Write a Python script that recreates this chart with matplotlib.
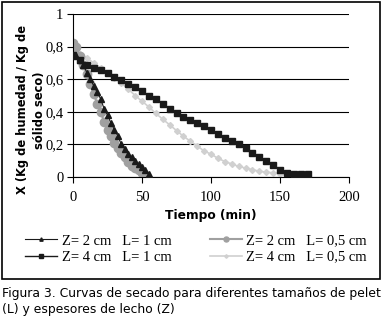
import matplotlib
matplotlib.use("Agg")
import matplotlib.pyplot as plt
from matplotlib.patches import Rectangle
from matplotlib.ticker import FuncFormatter

# Z=2 cm, L=1 cm (triangles)
t_z2_l1 = [0, 2.5, 5, 7.5, 10, 12.5, 15, 17.5, 20, 22.5, 25, 27.5, 30, 32.5,
           35, 37.5, 40, 42.5, 45, 47.5, 50, 52.5, 55]
x_z2_l1 = [0.75, 0.74, 0.72, 0.69, 0.64, 0.60, 0.56, 0.52, 0.48, 0.42, 0.38, 0.33,
           0.29, 0.25, 0.20, 0.17, 0.14, 0.12, 0.10, 0.08, 0.06, 0.04, 0.02]

# Z=2 cm, L=0,5 cm (circles)
t_z2_l05 = [0, 2.5, 5, 7.5, 10, 12.5, 15, 17.5, 20, 22.5, 25, 27.5, 30, 32.5,
            35, 37.5, 40, 42.5, 45, 47.5, 50, 52.5]
x_z2_l05 = [0.82, 0.80, 0.74, 0.69, 0.63, 0.57, 0.51, 0.45, 0.40, 0.34, 0.29, 0.25,
            0.21, 0.18, 0.15, 0.12, 0.09, 0.07, 0.055, 0.04, 0.025, 0.01]

# Z=4 cm, L=1 cm (squares)
t_z4_l1 = [0, 5, 10, 15, 20, 25, 30, 35, 40, 45, 50, 55, 60, 65, 70, 75, 80, 85,
           90, 95, 100, 105, 110, 115, 120, 125, 130, 135, 140, 145, 150, 155,
           160, 165, 170]
x_z4_l1 = [0.75, 0.72, 0.69, 0.67, 0.655, 0.64, 0.615, 0.595, 0.57, 0.55, 0.525,
           0.50, 0.48, 0.45, 0.42, 0.39, 0.37, 0.35, 0.33, 0.31, 0.29, 0.265,
           0.24, 0.22, 0.20, 0.175, 0.15, 0.125, 0.10, 0.075, 0.045, 0.025,
           0.02, 0.02, 0.02]

# Z=4 cm, L=0,5 cm (diamonds)
t_z4_l05 = [0, 5, 10, 15, 20, 25, 30, 35, 40, 45, 50, 55, 60, 65, 70, 75, 80, 85,
            90, 95, 100, 105, 110, 115, 120, 125, 130, 135, 140, 145, 150, 155,
            160, 165]
x_z4_l05 = [0.78, 0.755, 0.73, 0.70, 0.67, 0.64, 0.61, 0.575, 0.54, 0.50, 0.465,
            0.43, 0.39, 0.355, 0.32, 0.285, 0.25, 0.22, 0.19, 0.16, 0.14, 0.115,
            0.095, 0.08, 0.065, 0.055, 0.045, 0.035, 0.03, 0.025, 0.02, 0.018,
            0.015, 0.015]

serif = "Liberation Serif"
sans = "DejaVu Sans"

fig = plt.figure(figsize=(3.82, 3.22), dpi=100)
ax = fig.add_axes([73 / 382, 1 - 177 / 322, 276 / 382, 163 / 322])

ax.plot(t_z4_l05, x_z4_l05, color="#d0d0d0", lw=1.2, marker="D", ms=3,
        label="Z= 4 cm   L= 0,5 cm", zorder=2)
ax.plot(t_z4_l1, x_z4_l1, color="#1a1a1a", lw=1.0, marker="s", ms=5,
        label="Z= 4 cm   L= 1 cm", zorder=3)
ax.plot(t_z2_l05, x_z2_l05, color="#a0a0a0", lw=1.5, marker="o", ms=6,
        label="Z= 2 cm   L= 0,5 cm", zorder=2)
ax.plot(t_z2_l1, x_z2_l1, color="#1a1a1a", lw=0.8, marker="^", ms=4,
        label="Z= 2 cm   L= 1 cm", zorder=4)

ax.set_xlim(0, 200)
ax.set_ylim(0, 1)
ax.set_xticks([0, 50, 100, 150, 200])
ax.set_yticks([0, 0.2, 0.4, 0.6, 0.8, 1])
ax.yaxis.set_major_formatter(FuncFormatter(lambda v, p: ("%g" % round(v, 1)).replace(".", ",")))
ax.grid(axis="y", color="black", lw=0.8)
ax.set_axisbelow(True)
for s in ["top", "right"]:
    ax.spines[s].set_visible(False)
ax.tick_params(labelsize=10.5, length=4, width=0.8)
for lab in ax.get_xticklabels() + ax.get_yticklabels():
    lab.set_fontfamily(serif)
ax.tick_params(axis="x", pad=6)
ax.tick_params(axis="y", pad=3)

fig.text(31 / 382, 1 - 110 / 322, "X (Kg de humedad / Kg de\nsólido seco)",
         rotation=90, ha="center", va="center", fontsize=8.3, fontweight="bold",
         family=sans, linespacing=1.45)
fig.text(211 / 382, 1 - 216 / 322, "Tiempo (min)", ha="center", va="center",
         fontsize=8.8, fontweight="bold", family=sans)

h, l = ax.get_legend_handles_labels()
order = [3, 1, 2, 0]
leg = fig.legend([h[i] for i in order], [l[i] for i in order], ncol=2,
                 loc="center", bbox_to_anchor=(196 / 382, 1 - 249 / 322),
                 frameon=False, prop={"family": serif, "size": 10.5},
                 handlelength=2.2, columnspacing=2.6, labelspacing=0.2,
                 markerscale=0.6, handletextpad=0.3, borderpad=0.2)

fig.patches.append(Rectangle((1.5 / 382, 1 - 279 / 322), 378 / 382, 277 / 322,
                             transform=fig.transFigure, fill=False,
                             edgecolor="black", lw=1.2))

fig.text(2 / 382, 1 - 293 / 322,
         "Figura 3. Curvas de secado para diferentes tamaños de pelet",
         ha="left", va="center", fontsize=8.9, family=sans)
fig.text(2 / 382, 1 - 310 / 322, "(L) y espesores de lecho (Z)",
         ha="left", va="center", fontsize=8.9, family=sans)

fig.savefig("out.png", dpi=100)
